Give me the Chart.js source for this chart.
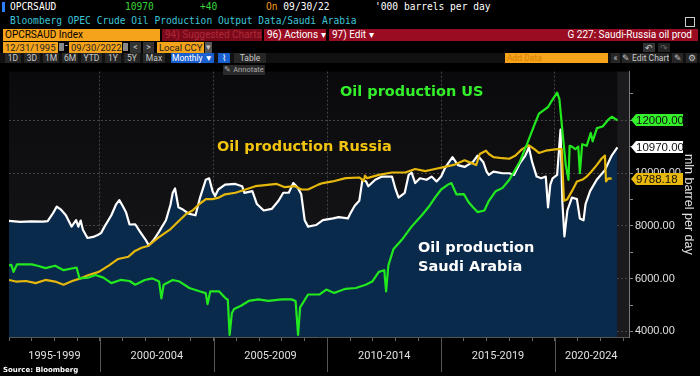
<!DOCTYPE html>
<html>
<head>
<meta charset="utf-8">
<script src="https://cdn.jsdelivr.net/npm/chart.js@4.4.1/dist/chart.umd.min.js"></script>
<style>
body{margin:0;background:#000;width:700px;height:376px;overflow:hidden;position:relative;font-family:Roboto,sans-serif;}
.a{position:absolute;white-space:nowrap;}
.mono{font-family:"DejaVu Sans Mono",monospace;font-size:9.6px;line-height:14px;}
.b{position:absolute;white-space:nowrap;font-size:10px;line-height:12px;height:12px;box-sizing:border-box;overflow:hidden;}
.t{position:absolute;white-space:nowrap;font-size:8.5px;line-height:10px;height:10px;color:#c8c8c8;background:#262626;text-align:center;box-sizing:border-box;overflow:hidden;}
.note{position:absolute;white-space:nowrap;font-family:"DejaVu Sans",sans-serif;font-weight:bold;font-size:14.5px;line-height:18px;}
#wrap{position:absolute;left:0;top:63px;width:700px;height:313px;}
</style>
</head>
<body>
<!-- en-tete Bloomberg -->
<div class="a" style="left:2px;top:2px;width:3px;height:10px;background:#2a7fff"></div>
<div class="a mono" style="left:10px;top:0;color:#fff">OPCRSAUD</div>
<div class="a mono" style="left:125px;top:0;color:#3ad43a">10970</div>
<div class="a mono" style="left:200px;top:0;color:#3ad43a">+40</div>
<div class="a mono" style="left:266px;top:0;color:#f09a1c">On <span style="color:#fff">09/30/22</span></div>
<div class="a mono" style="left:375px;top:0;color:#fff">'000 barrels per day</div>
<div class="a mono" style="left:10px;top:14px;color:#3cc6d8">Bloomberg OPEC Crude Oil Production Output Data/Saudi Arabia</div>
<div class="a" style="left:685px;top:17px;width:8px;height:8px;border:1px solid #ccc"></div>

<div class="b" style="left:3px;top:29px;width:157px;background:#f5a31a;color:#000;padding-left:2px">OPCRSAUD Index</div>
<div class="b" style="left:162px;top:29px;width:100px;background:#7a0a1a;color:#b02838;padding-left:3px">94) Suggested Charts</div>
<div class="b" style="left:264px;top:29px;width:62px;background:#9a0c22;color:#fff;padding-left:3px">96) Actions ▾</div>
<div class="b" style="left:329px;top:29px;width:369px;background:#9a0c22;color:#fff;padding-left:3px">97) Edit ▾</div>
<div class="b" style="left:500px;top:29px;width:192px;color:#fff;text-align:right">G 227: Saudi-Russia oil prod</div>

<div class="b" style="left:3px;top:42px;width:55px;height:11px;line-height:11px;background:#f5a31a;color:#222;padding-left:2px;font-size:9.5px">12/31/1995</div>
<div class="a" style="left:59px;top:43px;width:5px;height:8px;background:#888"></div>
<div class="a" style="left:65px;top:40px;color:#ccc;font-size:10px">-</div>
<div class="b" style="left:69px;top:42px;width:53px;height:11px;line-height:11px;background:#f5a31a;color:#222;padding-left:2px;font-size:9.5px">09/30/2022</div>
<div class="a" style="left:123px;top:43px;width:5px;height:8px;background:#888"></div>
<div class="t" style="left:130px;top:42px;width:11px;height:11px;background:#333">&lt;</div>
<div class="t" style="left:143px;top:42px;width:11px;height:11px;background:#333">&gt;</div>
<div class="b" style="left:157px;top:42px;width:47px;height:11px;line-height:11px;background:#f5a31a;color:#222;padding-left:2px;font-size:9.5px">Local CCY</div>
<div class="t" style="left:205px;top:42px;width:7px;height:11px;background:#555">▾</div>
<div class="t" style="left:643px;top:43px;width:12px;height:9px;background:#333">↶</div>
<div class="t" style="left:658px;top:43px;width:12px;height:9px;background:#222;color:#666">↷</div>

<div class="a" style="left:0;top:53px;width:700px;height:10px;background:#111"></div>
<div class="t" style="left:5px;top:53px;width:16px">1D</div>
<div class="t" style="left:24px;top:53px;width:16px">3D</div>
<div class="t" style="left:43px;top:53px;width:16px">1M</div>
<div class="t" style="left:62px;top:53px;width:16px">6M</div>
<div class="t" style="left:81px;top:53px;width:21px">YTD</div>
<div class="t" style="left:105px;top:53px;width:16px">1Y</div>
<div class="t" style="left:124px;top:53px;width:16px">5Y</div>
<div class="t" style="left:143px;top:53px;width:22px">Max</div>
<div class="t" style="left:171px;top:53px;width:43px;background:#1a5fd0;color:#fff">Monthly ▼</div>
<div class="t" style="left:218px;top:53px;width:12px;background:#1a5fd0;color:#fff">⌇</div>
<div class="t" style="left:234px;top:53px;width:32px">Table</div>
<div class="t" style="left:505px;top:53px;width:103px;background:#f5a31a;color:#d98200;text-align:left;padding-left:2px">Add Data</div>
<div class="t" style="left:611px;top:53px;width:9px">«</div>
<div class="t" style="left:622px;top:53px;width:47px">✎ Edit Chart</div>
<div class="t" style="left:672px;top:53px;width:11px">✎</div>
<div class="t" style="left:686px;top:53px;width:11px">⚙</div>

<div id="wrap"><canvas id="oilChart"></canvas></div>

<div class="t" style="left:223px;top:65px;width:42px;background:#2a2a2a;color:#aaa;font-size:7.5px">✎ Annotate</div>
<div class="note" style="left:340px;top:82px;color:#33f02a">Oil production US</div>
<div class="note" style="left:217px;top:137px;color:#f2c40f">Oil production Russia</div>
<div class="note" style="left:418px;top:238px;color:#fff">Oil production</div>
<div class="note" style="left:418px;top:257px;color:#fff">Saudi Arabia</div>
<div class="a" style="left:3px;top:366px;color:#fff;font-weight:bold;font-size:7px;font-family:'DejaVu Sans',sans-serif">Source: Bloomberg</div>

<script>
// US
const usYears = [1996.0,1996.1,1996.2,1996.35,1996.75,1997.0,1997.3,1997.6,1998.03,1998.4,1998.97,1999.1,1999.5,1999.8,
  2000.15,2000.5,2000.9,2001.3,2001.55,2001.97,2002.3,2002.6,2002.7,2002.8,2003.2,2003.5,2003.93,2004.37,2004.65,2004.73,2004.85,
  2005.23,2005.5,2005.62,2005.7,2005.8,2005.9,2006.2,2006.54,2006.97,2007.4,2008.0,2008.42,2008.6,2008.71,2008.8,
  2009.15,2009.37,2009.66,2009.95,2010.3,2010.5,2010.8,2011.25,2011.68,2011.97,2012.26,2012.5,2012.58,2012.68,2012.9,
  2013.28,2013.7,2014.15,2014.44,2014.73,2015.0,2015.3,2015.45,2015.67,2016.0,2016.2,2016.4,2016.6,2016.9,
  2017.1,2017.4,2017.7,2018.0,2018.45,2018.8,2019.1,2019.3,2019.5,2019.7,2019.87,2020.1,2020.2,2020.34,2020.48,2020.6,
  2020.65,2020.75,2020.9,2021.03,2021.1,2021.2,2021.4,2021.58,2021.66,2021.85,2022.1,2022.33,2022.5,2022.75];
const usProd = [6500,6525,6257,6540,6540,6540,6477,6400,6490,6320,6420,6010,6040,6135,
  6040,5830,5950,5910,5770,5950,6010,5890,5255,5770,5950,5890,5645,5520,5450,5035,5520,
  5520,5275,5200,3870,4700,4850,4975,5155,5215,5155,5215,5215,5150,3870,4910,
  5400,5400,5400,5585,5460,5520,5615,5645,5770,5890,6257,6320,5520,6500,7110,
  7480,7970,8400,8703,9070,9376,9560,9620,9193,9200,8900,8703,8520,8580,
  8947,9313,9437,9743,10415,11150,11823,12250,12375,12500,12740,13046,12800,11517,10300,9743,
  11030,11000,10900,11000,9990,11090,11030,11517,11200,11700,11760,12000,12130,12000];

// Russia
const ruYears = [1996.0,1996.3,1996.75,1997.17,1997.6,1998.03,1998.4,1998.78,1999.15,1999.5,1999.95,
  2000.4,2000.8,2001.25,2001.54,2001.83,2002.1,2002.55,2002.85,2003.06,2003.5,2003.8,2004.07,2004.37,2004.66,2004.94,
  2005.23,2005.5,2005.96,2006.4,2006.83,2007.26,2007.77,2008.13,2008.57,2008.86,2009.15,2009.6,2009.8,
  2010.23,2010.8,2011.4,2011.6,2011.65,2011.75,2012.26,2012.84,2013.42,2013.86,2014.3,2014.73,
  2015.16,2015.6,2016.03,2016.4,2016.54,2016.7,2016.97,2017.1,2017.3,2017.7,2018.0,2018.27,2018.56,2018.86,
  2019.1,2019.3,2019.6,2020.1,2020.3,2020.4,2020.55,2020.75,2020.97,2021.2,2021.4,2021.6,2021.84,
  2022.05,2022.2,2022.25,2022.35,2022.5];
const ruProd = [5950,5890,5910,5830,5950,5890,5770,5910,6010,6135,6257,
  6500,6745,6830,7050,7170,7235,7540,7725,7845,8213,8460,8580,8826,9010,9010,
  9070,9193,9253,9376,9500,9540,9585,9463,9500,9376,9376,9560,9620,
  9680,9805,9830,9700,9900,9805,9927,10020,10020,10150,10070,10150,
  10230,10320,10480,10355,10300,10720,10845,10720,10600,10560,10540,10660,10905,11050,
  10905,10760,10845,10905,10905,8947,9010,9313,9680,9743,9865,10050,10300,
  10540,10660,9680,9800,9788.18];

// Arabie saoudite
const saYears = [1996.0,1996.5,1997.0,1997.5,1997.7,1997.95,1998.1,1998.3,1998.5,1998.75,1998.95,1999.05,1999.15,1999.25,1999.45,1999.7,1999.9,
  2000.05,2000.2,2000.5,2000.7,2000.85,2001.0,2001.15,2001.3,2001.55,2001.75,2002.0,2002.15,2002.35,2002.6,2002.9,
  2003.1,2003.2,2003.3,2003.45,2003.6,2003.9,2004.2,2004.4,2004.65,2004.8,2004.95,
  2005.06,2005.2,2005.5,2005.95,2006.25,2006.35,2006.7,2006.9,2007.2,2007.55,2007.85,2008.06,2008.3,2008.5,2008.7,2008.85,
  2009.0,2009.15,2009.5,2009.8,2010.25,2010.5,2010.9,2011.0,2011.2,2011.4,2011.54,2011.7,2011.8,2012.1,2012.4,2012.84,
  2013.0,2013.13,2013.4,2013.57,2013.7,2013.86,2014.07,2014.36,2014.58,2014.8,2015.0,2015.16,2015.3,2015.5,2015.74,
  2016.03,2016.4,2016.6,2016.85,2017.0,2017.1,2017.3,2017.7,2018.0,2018.2,2018.45,2018.7,2018.86,
  2019.0,2019.2,2019.4,2019.6,2019.7,2019.8,2019.9,2020.1,2020.25,2020.33,2020.42,2020.55,2020.75,2020.97,
  2021.1,2021.26,2021.35,2021.55,2021.84,2022.2,2022.5,2022.75];
const saProd = [8190,8150,8170,8160,8180,8500,8730,8600,8400,7970,8213,7970,8200,7850,7540,7580,7650,
  7725,7970,8400,8800,8973,8750,8500,8050,8060,7790,7480,7260,7450,7780,8213,
  8800,9250,9413,8703,8640,8460,8400,9070,9740,9800,9313,
  9130,9376,9560,9585,9500,9250,9313,8826,8580,8640,8947,9253,9253,9620,9437,9193,
  8213,7970,8030,8213,8280,8330,8280,8460,8763,8947,9743,9680,9500,9743,9865,9865,
  9376,9070,9250,9927,10020,9620,9800,9743,9865,9680,9865,10170,10355,10600,10300,
  10230,10420,10660,10420,10050,9927,10050,9990,9990,9927,10355,10660,10965,
  10420,9865,9800,9865,8700,9560,9800,9927,11640,8900,7600,8580,9070,9010,
  8275,8210,8826,9313,9743,10110,10660,10970];

// axe X : periodes de 5 ans
const periodLabels = ['1995-1999','2000-2004','2005-2009','2010-2014','2015-2019','2020-2024'];
const periodCenters = [1998, 2002.5, 2007.5, 2012.5, 2017.5, 2021.6];
const periodBounds = [2000, 2005, 2010, 2015, 2020];
const yearTicks = [];
for (let y = 1996; y <= 2023; y++) yearTicks.push(y);

// axe Y
const yTickValues = [4000,5000,6000,7000,8000,9000,10000,11000,12000,13000];

const toPoints = (xs, ys) => xs.map((x, i) => ({x: x, y: ys[i]}));

const bgPlugin = {
  id: 'bg',
  beforeDraw(chart) {
    const {ctx, chartArea: a, scales} = chart;
    const g = ctx.createLinearGradient(0, a.top, 0, a.bottom);
    g.addColorStop(0, '#0a0a0c');
    g.addColorStop(1, '#1a1a1e');
    ctx.save();
    ctx.fillStyle = g;
    ctx.fillRect(a.left, a.top, a.right - a.left, a.bottom - a.top);
    const xEnd = scales.x.getPixelForValue(saYears[saYears.length - 1]);
    ctx.fillStyle = '#1b1b1e';
    ctx.fillRect(xEnd, a.top, a.right - xEnd, a.bottom - a.top);
    ctx.restore();
  },
  afterDraw(chart) {
    const {ctx, chartArea: a, scales} = chart;
    ctx.save();
    // separateurs des periodes
    ctx.strokeStyle = '#555';
    ctx.lineWidth = 1;
    periodBounds.forEach(v => {
      const x = Math.round(scales.x.getPixelForValue(v)) + 0.5;
      ctx.beginPath();
      ctx.moveTo(x, a.bottom);
      ctx.lineTo(x, a.bottom + 35);
      ctx.stroke();
    });
    // etiquettes de derniere valeur
    const tags = [
      {v: usProd[usProd.length - 1], bg: '#33f02a'},
      {v: saProd[saProd.length - 1], bg: '#ffffff'},
      {v: ruProd[ruProd.length - 1], bg: '#e8b80c'}
    ];
    ctx.font = '11.5px "Liberation Sans", Arial, sans-serif';
    ctx.textBaseline = 'middle';
    tags.forEach(t => {
      const y = Math.round(scales.y.getPixelForValue(t.v));
      const x0 = a.right + 2;
      ctx.fillStyle = t.bg;
      ctx.beginPath();
      ctx.moveTo(x0, y);
      ctx.lineTo(x0 + 5, y - 6);
      ctx.lineTo(x0 + 52, y - 6);
      ctx.lineTo(x0 + 52, y + 6);
      ctx.lineTo(x0 + 5, y + 6);
      ctx.closePath();
      ctx.fill();
      ctx.fillStyle = '#111';
      ctx.fillText(t.v.toFixed(2), x0 + 5, y + 0.5);
    });
    ctx.restore();
  }
};

new Chart(document.getElementById('oilChart'), {
  type: 'line',
  data: {
    datasets: [
      {label: 'US', data: toPoints(usYears, usProd), borderColor: '#22e81e', borderWidth: 2.2, fill: false},
      {label: 'Russia', data: toPoints(ruYears, ruProd), borderColor: '#e6b80b', borderWidth: 2.2, fill: false},
      {label: 'Saudi Arabia', data: toPoints(saYears, saProd), borderColor: '#ffffff', borderWidth: 2.2,
       fill: 'start', backgroundColor: '#0a2a4c'}
    ]
  },
  options: {
    responsive: true,
    maintainAspectRatio: false,
    animation: false,
    layout: {padding: {left: 2, top: 0, right: 0, bottom: 0}},
    elements: {point: {radius: 0}, line: {tension: 0, borderJoinStyle: 'round'}},
    plugins: {legend: {display: false}, tooltip: {enabled: false}},
    scales: {
      x: {
        type: 'linear',
        min: 1996,
        max: 2023.26,
        afterBuildTicks: s => {
          const vals = yearTicks.concat(periodCenters.filter(c => !yearTicks.includes(c)));
          vals.sort((p, q) => p - q);
          s.ticks = vals.map(v => ({value: v}));
        },
        afterFit: s => { s.height = 39; },
        ticks: {
          autoSkip: false,
          maxRotation: 0,
          padding: 9,
          color: '#e0e0e0',
          font: {family: 'Roboto', size: 11},
          callback: v => {
            const i = periodCenters.indexOf(v);
            return i >= 0 ? periodLabels[i] : '';
          }
        },
        grid: {
          color: c => (c.tick && periodBounds.includes(c.tick.value)) ? '#444' : 'rgba(0,0,0,0)',
          tickColor: c => (c.tick && Number.isInteger(c.tick.value)) ? '#666' : 'rgba(0,0,0,0)',
          tickLength: 4
        },
        border: {display: true, color: '#555', dash: [2, 2]}
      },
      y: {
        type: 'linear',
        position: 'right',
        min: 3790,
        max: 13840,
        afterBuildTicks: s => { s.ticks = yTickValues.map(v => ({value: v})); },
        afterFit: s => { s.width = 71; },
        ticks: {
          padding: 2,
          color: '#e0e0e0',
          font: {family: '"Liberation Sans", Arial', size: 11},
          callback: v => (v % 2000 === 0 ? v.toFixed(2) : '')
        },
        grid: {
          color: c => (c.tick && c.tick.value % 2000 === 0) ? '#444' : 'rgba(0,0,0,0)',
          tickColor: '#888',
          tickLength: 4
        },
        border: {display: true, color: '#777', dash: [2, 2]},
        title: {
          display: true,
          text: 'mln barrel per day',
          color: '#e0e0e0',
          font: {family: '"Liberation Sans", Arial', size: 12.5},
          padding: 4
        }
      }
    }
  },
  plugins: [bgPlugin]
});
</script>
</body>
</html>
